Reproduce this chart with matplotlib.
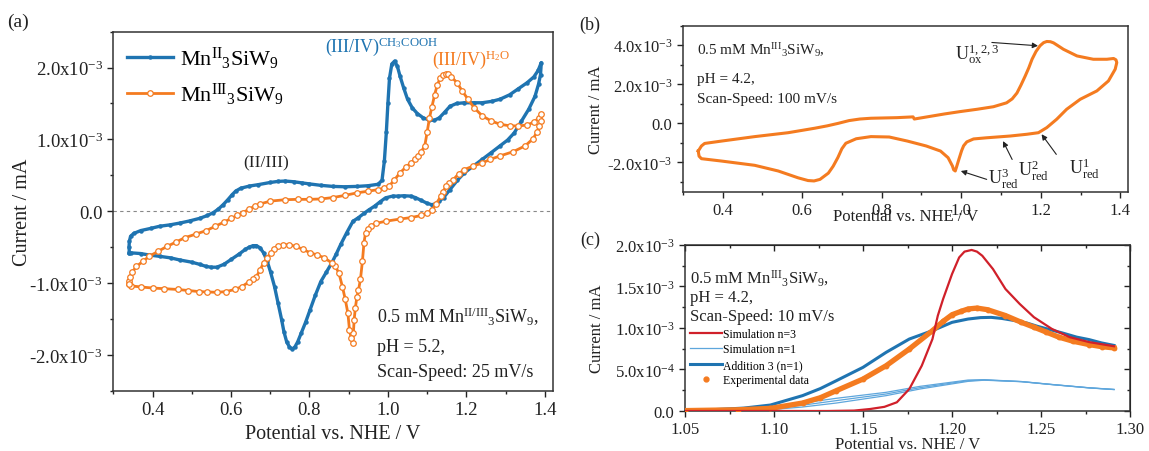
import matplotlib
matplotlib.use("Agg")
import matplotlib.pyplot as plt
from matplotlib.ticker import MultipleLocator
from matplotlib.lines import Line2D

plt.rcParams['font.family'] = ['Liberation Serif', 'DejaVu Serif']
plt.rcParams['mathtext.default'] = 'regular'
plt.rcParams['axes.unicode_minus'] = False

BLUE = '#1f74b1'
ORANGE = '#f47b20'
RED = '#d0202a'
LIGHTBLUE = '#5ea6dc'
TXT = '#222222'

# ---- panel (a): CV loops, potential in V, current in 1e-3 mA
a_mn2_E = [0.341, 0.340, 0.341, 0.344, 0.352, 0.370, 0.395, 0.418, 0.445, 0.470, 0.495,
           0.520, 0.540, 0.555, 0.568, 0.580, 0.592, 0.603, 0.612, 0.625, 0.647, 0.670,
           0.700, 0.720, 0.738, 0.760, 0.780, 0.800, 0.829, 0.860, 0.890, 0.921, 0.950,
           0.975, 0.985, 0.991, 0.996, 1.000, 1.004, 1.010, 1.017, 1.024, 1.031, 1.040,
           1.050, 1.062, 1.075, 1.090, 1.105, 1.118, 1.131, 1.145, 1.158, 1.175, 1.195,
           1.220, 1.240, 1.265, 1.286, 1.310, 1.331, 1.355, 1.372, 1.383, 1.391,
           1.389, 1.384, 1.375, 1.359, 1.340, 1.322, 1.305, 1.286, 1.262, 1.240, 1.218,
           1.195, 1.177, 1.158, 1.142, 1.131, 1.120, 1.112, 1.100, 1.085, 1.070, 1.058,
           1.040, 1.025, 1.012, 0.994, 0.980, 0.966, 0.952, 0.939, 0.925, 0.911, 0.895,
           0.880, 0.868, 0.857, 0.843, 0.829, 0.815, 0.802, 0.790, 0.779, 0.770, 0.763,
           0.756, 0.749, 0.742, 0.735, 0.729, 0.720, 0.711, 0.701, 0.692, 0.683, 0.674,
           0.665, 0.656, 0.647, 0.637, 0.620, 0.601, 0.582, 0.564, 0.550, 0.537, 0.520,
           0.500, 0.470, 0.446, 0.420, 0.391, 0.370, 0.345, 0.341]
a_mn2_I = [-0.58, -0.50, -0.42, -0.35, -0.31, -0.27, -0.24, -0.21, -0.19, -0.165, -0.135,
           -0.10, -0.06, -0.02, 0.03, 0.09, 0.16, 0.23, 0.28, 0.32, 0.35, 0.37,
           0.40, 0.415, 0.42, 0.41, 0.395, 0.38, 0.36, 0.345, 0.34, 0.345, 0.355,
           0.375, 0.43, 0.70, 1.10, 1.50, 1.85, 2.05, 2.09, 2.02, 1.88, 1.72,
           1.56, 1.44, 1.36, 1.30, 1.27, 1.265, 1.30, 1.38, 1.46, 1.50, 1.51,
           1.51, 1.51, 1.53, 1.56, 1.62, 1.70, 1.79, 1.87, 1.96, 2.07,
           1.90, 1.77, 1.60, 1.42, 1.25, 1.09, 0.99, 0.91, 0.81, 0.72, 0.63,
           0.535, 0.43, 0.30, 0.19, 0.14, 0.10, 0.09, 0.11, 0.15, 0.19, 0.21,
           0.215, 0.21, 0.21, 0.186, 0.13, 0.07, 0.02, -0.03, -0.09, -0.14, -0.30,
           -0.46, -0.60, -0.72, -0.85, -0.98, -1.17, -1.37, -1.55, -1.70, -1.82, -1.89,
           -1.92, -1.89, -1.82, -1.68, -1.51, -1.28, -1.05, -0.85, -0.69, -0.58, -0.51,
           -0.48, -0.48, -0.50, -0.53, -0.60, -0.67, -0.74, -0.78, -0.78, -0.77, -0.74,
           -0.71, -0.68, -0.65, -0.63, -0.61, -0.59, -0.58, -0.58]

a_mn3_E = [0.341, 0.340, 0.343, 0.348, 0.359, 0.375, 0.391, 0.414, 0.437, 0.460, 0.482,
           0.510, 0.537, 0.560, 0.583, 0.601, 0.615, 0.630, 0.647, 0.660, 0.674, 0.700,
           0.738, 0.770, 0.800, 0.829, 0.860, 0.890, 0.921, 0.950, 0.975, 0.990, 1.003,
           1.016, 1.030, 1.045, 1.058, 1.068, 1.076, 1.085, 1.094, 1.100, 1.106, 1.112,
           1.119, 1.126, 1.133, 1.140, 1.147, 1.153, 1.162, 1.176, 1.190, 1.204, 1.220,
           1.240, 1.262, 1.286, 1.310, 1.331, 1.355, 1.372, 1.385, 1.391,
           1.389, 1.386, 1.380, 1.370, 1.350, 1.320, 1.286, 1.260, 1.240, 1.218, 1.195,
           1.180, 1.167, 1.157, 1.149, 1.140, 1.135, 1.123, 1.112, 1.100, 1.085, 1.058,
           1.030, 0.994, 0.970, 0.957, 0.948, 0.943, 0.939, 0.935, 0.930, 0.925, 0.921,
           0.917, 0.914, 0.912, 0.910, 0.906, 0.902, 0.898, 0.891, 0.884, 0.875, 0.866,
           0.857, 0.838, 0.820, 0.802, 0.783, 0.765, 0.747, 0.733, 0.720, 0.710, 0.701,
           0.692, 0.683, 0.674, 0.665, 0.656, 0.647, 0.628, 0.610, 0.587, 0.564, 0.540,
           0.519, 0.490, 0.464, 0.430, 0.400, 0.370, 0.345, 0.341]
a_mn3_I = [-1.02, -0.97, -0.91, -0.85, -0.77, -0.70, -0.63, -0.56, -0.49, -0.43, -0.37,
           -0.32, -0.27, -0.21, -0.15, -0.10, -0.06, -0.02, 0.03, 0.07, 0.10, 0.14,
           0.16, 0.165, 0.165, 0.17, 0.19, 0.22, 0.255, 0.28, 0.30, 0.32, 0.35,
           0.43, 0.53, 0.61, 0.67, 0.72, 0.77, 0.83, 0.91, 1.10, 1.30, 1.45,
           1.62, 1.76, 1.85, 1.89, 1.91, 1.905, 1.87, 1.79, 1.67, 1.56, 1.44,
           1.33, 1.26, 1.21, 1.19, 1.186, 1.20, 1.24, 1.30, 1.35,
           1.25, 1.186, 1.10, 1.01, 0.91, 0.83, 0.77, 0.72, 0.67, 0.63, 0.58,
           0.52, 0.44, 0.39, 0.35, 0.27, 0.21, 0.10, 0.02, -0.03, -0.06, -0.09,
           -0.11, -0.14, -0.17, -0.20, -0.25, -0.30, -0.44, -0.70, -0.95, -1.10, -1.19,
           -1.35, -1.51, -1.70, -1.84, -1.76, -1.65, -1.42, -1.22, -1.05, -0.86, -0.77,
           -0.72, -0.65, -0.61, -0.58, -0.53, -0.49, -0.465, -0.47, -0.49, -0.53, -0.58,
           -0.65, -0.72, -0.82, -0.91, -0.95, -0.98, -1.05, -1.09, -1.12, -1.13, -1.125,
           -1.12, -1.105, -1.09, -1.08, -1.07, -1.055, -1.04, -1.02]

# ---- panel (b): CV of Mn(III), pH 4.2, 100 mV/s
b_E = [0.339, 0.347, 0.355, 0.397, 0.481, 0.565, 0.632, 0.663, 0.691, 0.718, 0.745, 0.773,
       0.838, 0.879, 0.882, 0.958, 0.997, 1.040, 1.081, 1.114, 1.128, 1.140, 1.150, 1.161,
       1.170, 1.178, 1.188, 1.198, 1.207, 1.215, 1.224, 1.232, 1.245, 1.257, 1.291, 1.332,
       1.366, 1.383, 1.389, 1.391, 1.387, 1.370, 1.341, 1.299, 1.265, 1.240, 1.215, 1.194,
       1.165, 1.123, 1.064, 1.031, 1.014, 1.006, 1.001, 0.994, 0.988, 0.985, 0.981, 0.978,
       0.967, 0.948, 0.912, 0.865, 0.819, 0.773, 0.736, 0.710, 0.700, 0.690, 0.678, 0.666,
       0.645, 0.630, 0.615, 0.590, 0.540, 0.481, 0.397, 0.347, 0.341, 0.339]
b_I = [-1.42, -1.16, -1.03, -0.91, -0.68, -0.48, -0.25, -0.13, 0.0, 0.14, 0.22, 0.26,
       0.29, 0.33, 0.22, 0.48, 0.60, 0.72, 0.85, 1.05, 1.25, 1.55, 1.95, 2.43,
       2.85, 3.28, 3.68, 3.97, 4.13, 4.19, 4.18, 4.12, 3.95, 3.79, 3.45, 3.28,
       3.28, 3.32, 3.25, 3.11, 2.77, 2.17, 1.66, 1.23, 0.72, 0.21, -0.22, -0.48,
       -0.56, -0.65, -0.74, -0.80, -0.95, -1.15, -1.40, -1.85, -2.25, -2.44, -2.38, -2.19,
       -1.76, -1.42, -1.16, -0.91, -0.70, -0.68, -0.79, -1.02, -1.30, -1.75, -2.20, -2.55,
       -2.87, -2.95, -2.93, -2.79, -2.44, -2.15, -1.93, -1.81, -1.68, -1.42]

# ---- panel (c): simulation vs experiment, current in 1e-3 mA
c_sim3_E = [1.050, 1.130, 1.145, 1.154, 1.162, 1.169, 1.176, 1.183, 1.189, 1.192, 1.195,
            1.200, 1.204, 1.207, 1.211, 1.214, 1.217, 1.223, 1.230, 1.238, 1.246, 1.256,
            1.266, 1.277, 1.291]
c_sim3_I = [0.0, 0.0, 0.005, 0.024, 0.05, 0.105, 0.265, 0.546, 0.867, 1.148, 1.35,
            1.65, 1.85, 1.92, 1.94, 1.92, 1.87, 1.71, 1.47, 1.29, 1.13, 0.99,
            0.89, 0.83, 0.78]

c_exp_E = [1.050, 1.080, 1.098, 1.116, 1.126, 1.135, 1.150, 1.163, 1.176, 1.189, 1.195,
           1.200, 1.205, 1.209, 1.214, 1.220, 1.230, 1.239, 1.246, 1.253, 1.260, 1.268,
           1.277, 1.284, 1.291]
c_exp_I = [0.005, 0.015, 0.032, 0.096, 0.16, 0.245, 0.385, 0.546, 0.747, 0.968, 1.08,
           1.16, 1.20, 1.229, 1.24, 1.22, 1.15, 1.068, 1.01, 0.95, 0.89, 0.84,
           0.80, 0.775, 0.76]

c_add_E = [1.050, 1.065, 1.083, 1.098, 1.116, 1.126, 1.135, 1.150, 1.163, 1.176, 1.189,
           1.200, 1.209, 1.216, 1.222, 1.228, 1.235, 1.242, 1.248, 1.255, 1.262, 1.270,
           1.277, 1.284, 1.291]
c_add_I = [0.006, 0.015, 0.035, 0.072, 0.185, 0.27, 0.365, 0.526, 0.707, 0.867, 0.968,
           1.068, 1.108, 1.125, 1.128, 1.115, 1.09, 1.06, 1.02, 0.98, 0.94, 0.89,
           0.86, 0.82, 0.79]

c_sim1_E = [1.050, 1.083, 1.098, 1.116, 1.135, 1.163, 1.182, 1.209, 1.218, 1.239, 1.256, 1.277, 1.291]
c_sim1_I = [
    [0.003, 0.020, 0.044, 0.095, 0.153, 0.225, 0.297, 0.373, 0.377, 0.355, 0.32, 0.28, 0.26],
    [0.002, 0.013, 0.028, 0.070, 0.125, 0.205, 0.281, 0.365, 0.374, 0.354, 0.319, 0.279, 0.259],
    [0.001, 0.007, 0.016, 0.048, 0.096, 0.185, 0.265, 0.357, 0.371, 0.353, 0.318, 0.278, 0.258],
]

a_yticks = [-2e-3, -1e-3, 0, 1e-3, 2e-3]
a_ylabels = ['-2.0x10$^{-3}$', '-1.0x10$^{-3}$', '0.0', '1.0x10$^{-3}$', '2.0x10$^{-3}$']
b_yticks = [-2e-3, 0, 2e-3, 4e-3]
b_ylabels = ['-2.0x10$^{-3}$', '0.0', '2.0x10$^{-3}$', '4.0x10$^{-3}$']
c_yticks = [0, 5e-4, 1e-3, 1.5e-3, 2e-3]
c_ylabels = ['0.0', '5.0x10$^{-4}$', '1.0x10$^{-3}$', '1.5x10$^{-3}$', '2.0x10$^{-3}$']
c_xticks = [1.05, 1.10, 1.15, 1.20, 1.25, 1.30]


def milli(vals):
    return [v * 1e-3 for v in vals]


def style(ax, size):
    for s in ax.spines.values():
        s.set_linewidth(1.1)
        s.set_color('#333333')
    ax.tick_params(which='both', direction='out', labelsize=size, colors=TXT, width=1.0)
    ax.tick_params(which='major', length=4)
    ax.tick_params(which='minor', length=2.3)


fig = plt.figure(figsize=(11.49, 4.52), dpi=100)
ax_a = fig.add_axes([0.0986, 0.1334, 0.3824, 0.7943])
ax_b = fig.add_axes([0.5942, 0.5737, 0.3878, 0.3673])
ax_c = fig.add_axes([0.5962, 0.0885, 0.3873, 0.3673])

# ---------------- (a)
ax_a.axhline(0, color='#888888', ls=(0, (3, 3)), lw=0.8, zorder=0)
ax_a.plot(a_mn2_E, milli(a_mn2_I), color=BLUE, lw=2.4, marker='o', ms=2.2,
          mfc=BLUE, mec=BLUE, label=r'Mn$^{II}{}_{3}$SiW$_{9}$')
ax_a.plot(a_mn3_E, milli(a_mn3_I), color=ORANGE, lw=2.0, marker='o', ms=4.0,
          mfc='white', mec=ORANGE, mew=0.9, label=r'Mn$^{III}{}_{3}$SiW$_{9}$')
ax_a.set_xlim(0.3, 1.42)
ax_a.set_ylim(-2.5e-3, 2.5e-3)
ax_a.xaxis.set_major_locator(MultipleLocator(0.2))
ax_a.xaxis.set_minor_locator(MultipleLocator(0.1))
ax_a.set_yticks(a_yticks)
ax_a.set_yticklabels(a_ylabels)
ax_a.yaxis.set_minor_locator(MultipleLocator(0.5e-3))
style(ax_a, 13.5)
ax_a.set_xlabel('Potential vs. NHE / V', fontsize=14.5, color=TXT)
ax_a.set_ylabel('Current / mA', fontsize=14.5, color=TXT, labelpad=-2)
ax_a.legend(loc='upper left', frameon=False, fontsize=16, handlelength=2.1,
            handletextpad=0.3, labelspacing=0.45, borderaxespad=0.2)
ax_a.text(0.69, 0.68e-3, '(II/III)', fontsize=12.5, color=TXT, ha='center', va='center')
ax_a.text(0.839, 2.30e-3, r'(III/IV)$^{CH_3COOH}$', fontsize=13, color=BLUE, va='center')
ax_a.text(1.112, 2.12e-3, r'(III/IV)$^{H_2O}$', fontsize=13, color=ORANGE, va='center')
ax_a.text(0.601, 0.207, r'0.5 mM Mn$^{II/III}{}_{3}$SiW$_{9}$,', transform=ax_a.transAxes,
          fontsize=13, color=TXT, va='center')
ax_a.text(0.601, 0.123, 'pH = 5.2,', transform=ax_a.transAxes, fontsize=13, color=TXT, va='center')
ax_a.text(0.601, 0.054, 'Scan-Speed: 25 mV/s', transform=ax_a.transAxes, fontsize=13,
          color=TXT, va='center')

# ---------------- (b)
ax_b.plot(b_E, milli(b_I), color=ORANGE, lw=2.2)
ax_b.set_xlim(0.3, 1.42)
ax_b.set_ylim(-3.5e-3, 5e-3)
ax_b.xaxis.set_major_locator(MultipleLocator(0.2))
ax_b.xaxis.set_minor_locator(MultipleLocator(0.1))
ax_b.set_yticks(b_yticks)
ax_b.set_yticklabels(b_ylabels)
ax_b.yaxis.set_minor_locator(MultipleLocator(1e-3))
style(ax_b, 12)
ax_b.set_xlabel('Potential vs. NHE / V', fontsize=12, color=TXT, labelpad=-7)
ax_b.set_ylabel('Current / mA', fontsize=12, color=TXT, labelpad=2)
ax_b.text(0.033, 0.86, r'0.5 mM Mn$^{III}{}_{3}$SiW$_{9}$,', transform=ax_b.transAxes,
          fontsize=11, color=TXT, va='center')
ax_b.text(0.033, 0.679, 'pH = 4.2,', transform=ax_b.transAxes, fontsize=11, color=TXT, va='center')
ax_b.text(0.033, 0.564, 'Scan-Speed: 100 mV/s', transform=ax_b.transAxes, fontsize=11,
          color=TXT, va='center')
arrow = dict(arrowstyle='-|>', color=TXT, lw=0.8, mutation_scale=8, shrinkA=0, shrinkB=0)
ax_b.text(0.985, 3.62e-3, r'U$^{1,2,3}_{ox}$', fontsize=13, color=TXT, va='center')
ax_b.annotate('', xy=(1.193, 3.97e-3), xytext=(1.077, 4.14e-3), arrowprops=arrow)
ax_b.text(1.068, -2.79e-3, r'U$^{3}_{red}$', fontsize=13, color=TXT, va='center')
ax_b.annotate('', xy=(0.999, -2.44e-3), xytext=(1.064, -2.87e-3), arrowprops=arrow)
ax_b.text(1.142, -2.36e-3, r'U$^{2}_{red}$', fontsize=13, color=TXT, va='center')
ax_b.annotate('', xy=(1.105, -0.91e-3), xytext=(1.128, -1.85e-3), arrowprops=arrow)
ax_b.text(1.271, -2.27e-3, r'U$^{1}_{red}$', fontsize=13, color=TXT, va='center')
ax_b.annotate('', xy=(1.202, -0.56e-3), xytext=(1.239, -1.59e-3), arrowprops=arrow)

# ---------------- (c)
ax_c.plot(c_sim3_E, milli(c_sim3_I), color=RED, lw=1.6, label='Simulation n=3', zorder=4)
for k, curve in enumerate(c_sim1_I):
    ax_c.plot(c_sim1_E, milli(curve), color=LIGHTBLUE, lw=0.9,
              label='Simulation n=1' if k == 0 else None, zorder=2)
ax_c.plot(c_add_E, milli(c_add_I), color=BLUE, lw=2.2, label='Addition 3 (n=1)', zorder=3)
ax_c.plot(c_exp_E, milli(c_exp_I), color=ORANGE, lw=3.8, marker='o', ms=3.2, zorder=3)
ax_c.set_xlim(1.05, 1.30)
ax_c.set_ylim(0, 2e-3)
ax_c.set_xticks(c_xticks)
ax_c.set_xticklabels(['%.2f' % v for v in c_xticks])
ax_c.xaxis.set_minor_locator(MultipleLocator(0.025))
ax_c.set_yticks(c_yticks)
ax_c.set_yticklabels(c_ylabels)
ax_c.yaxis.set_minor_locator(MultipleLocator(2.5e-4))
style(ax_c, 12)
top = ax_c.secondary_xaxis('top')
top.set_xticks(c_xticks)
top.xaxis.set_minor_locator(MultipleLocator(0.025))
top.tick_params(which='both', direction='in', labeltop=False, colors=TXT, width=1.0)
top.tick_params(which='major', length=4)
top.tick_params(which='minor', length=2.3)
right = ax_c.secondary_yaxis('right')
right.set_yticks(c_yticks)
right.yaxis.set_minor_locator(MultipleLocator(2.5e-4))
right.tick_params(which='both', direction='in', labelright=False, colors=TXT, width=1.0)
right.tick_params(which='major', length=4)
right.tick_params(which='minor', length=2.3)
ax_c.set_xlabel('Potential vs. NHE / V', fontsize=12, color=TXT, labelpad=-1)
ax_c.set_ylabel('Current / mA', fontsize=12, color=TXT, labelpad=7)
ax_c.text(0.012, 0.805, r'0.5 mM Mn$^{III}{}_{3}$SiW$_{9}$,', transform=ax_c.transAxes,
          fontsize=12, color=TXT, va='center')
ax_c.text(0.012, 0.685, 'pH = 4.2,', transform=ax_c.transAxes, fontsize=12, color=TXT, va='center')
ax_c.text(0.012, 0.570, 'Scan-Speed: 10 mV/s', transform=ax_c.transAxes, fontsize=12,
          color=TXT, va='center')
handles, labels = ax_c.get_legend_handles_labels()
handles.append(Line2D([], [], ls='none', marker='o', ms=3.5, color=ORANGE))
labels.append('Experimental data')
ax_c.legend(handles, labels, loc='upper left', bbox_to_anchor=(0.0, 0.53), frameon=False,
            fontsize=8.5, handlelength=2.7, handletextpad=0.15, labelspacing=0.3,
            borderaxespad=0.0, borderpad=0.4)

fig.text(0.016, 0.951, '(a)', fontsize=14, color=TXT, va='center', ha='center')
fig.text(0.513, 0.945, '(b)', fontsize=13, color=TXT, va='center', ha='center')
fig.text(0.514, 0.469, '(c)', fontsize=13, color=TXT, va='center', ha='center')

fig.savefig('out.png', dpi=100)
